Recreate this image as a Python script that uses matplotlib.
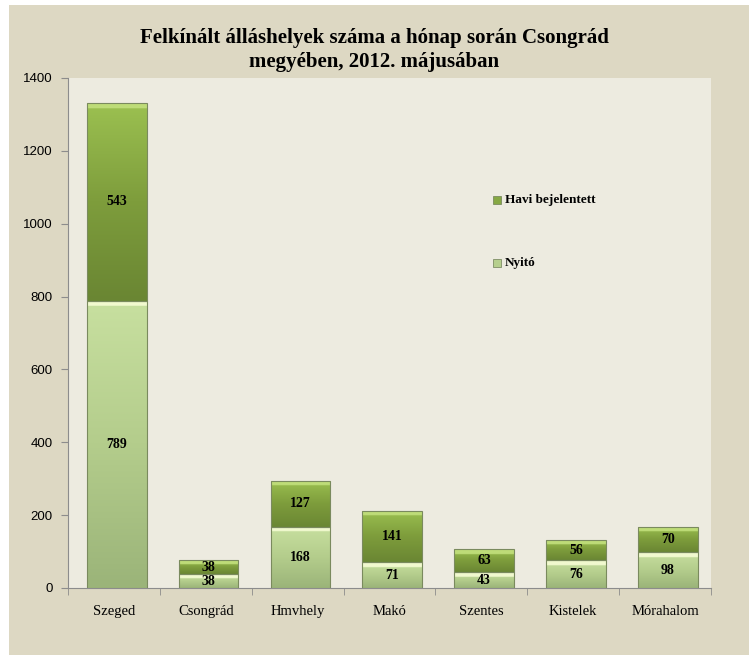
import matplotlib.pyplot as plt
import matplotlib.patches as mpatches
import numpy as np
from matplotlib.colors import LinearSegmentedColormap

categories = ["Szeged", "Csongrád", "Hmvhely", "Makó", "Szentes", "Kistelek", "Mórahalom"]
nyito = [789, 38, 168, 71, 43, 76, 98]
havi = [543, 38, 127, 141, 63, 56, 70]
yticks = [0, 200, 400, 600, 800, 1000, 1200, 1400]

serif = "Liberation Serif"
sans = "Liberation Sans"

fig = plt.figure(figsize=(7.49, 6.55), dpi=100, facecolor="white")
# chart area background
fig.patches.append(mpatches.Rectangle((9 / 749, 0), 1 - 9 / 749, 1 - 5 / 655,
                                      transform=fig.transFigure, facecolor="#DDD8C3",
                                      edgecolor="none", zorder=-10))
ax = fig.add_axes([68 / 749, 1 - 588 / 655, (711 - 68) / 749, (588 - 78) / 655])
ax.set_facecolor("#EDEBE0")

x = np.arange(len(categories))
w = 0.65

cm_nyito = LinearSegmentedColormap.from_list("ny", ["#9BB479", "#B4CD8C", "#C8E0A0", "#F1F9CF"])
cm_havi = LinearSegmentedColormap.from_list("hv", ["#6A8633", "#7E9D3C", "#9CC151", "#BEDC78"])


def gradient_bars(bars, cmap):
    for b in bars:
        x0, y0 = b.get_x(), b.get_y()
        x1, y1 = x0 + b.get_width(), y0 + b.get_height()
        h = y1 - y0
        n = 300
        t = np.linspace(0, 1, n)
        capfrac = min(14.0 / h, 0.3)
        vals = np.where(t > 1 - capfrac, 1.0, t * 0.66)
        img = np.tile(vals[:, None], (1, 2))
        im = ax.imshow(img, cmap=cmap, vmin=0, vmax=1, origin="lower", aspect="auto",
                       extent=(x0, x1, y0, y1), zorder=3, interpolation="bilinear")
        im.set_clip_path(b)
        b.set_facecolor("none")
        b.set_edgecolor("#7A8A5E")
        b.set_linewidth(0.8)
        b.set_zorder(4)


b1 = ax.bar(x + 0.03, nyito, w, color="#B6CF8D", label="Nyitó")
b2 = ax.bar(x + 0.03, havi, w, bottom=nyito, color="#7E9C3C", label="Havi bejelentett")
gradient_bars(b1, cm_nyito)
gradient_bars(b2, cm_havi)

for i in range(len(categories)):
    ax.text(x[i] + 0.03, nyito[i] / 2, str(nyito[i]), ha="center", va="center",
            fontsize=10, fontweight="bold", family=serif, zorder=5)
    ax.text(x[i] + 0.03, nyito[i] + havi[i] / 2, str(havi[i]), ha="center", va="center",
            fontsize=10, fontweight="bold", family=serif, zorder=5)

ax.set_xlim(-0.5, len(categories) - 0.5)
ax.set_ylim(0, 1400)
ax.set_yticks(yticks)
ax.set_yticklabels([str(v) for v in yticks], family=sans, fontsize=9.5)
ax.set_xticks(x)
ax.set_xticklabels(categories, family=serif, fontsize=10.5)
ax.set_xticks(np.arange(-0.5, len(categories)), minor=True)
ax.tick_params(axis="x", which="major", length=0, pad=12)
ax.tick_params(axis="x", which="minor", length=5, color="#8C8C8C", direction="out")
ax.tick_params(axis="y", length=5, color="#8C8C8C", direction="out", pad=6)
for s in ["top", "right"]:
    ax.spines[s].set_visible(False)
for s in ["left", "bottom"]:
    ax.spines[s].set_color("#8C8C8C")

fig.text(0.5, 1 - 38 / 655, "Felkínált álláshelyek száma a hónap során Csongrád",
         ha="center", va="center", fontsize=15, fontweight="bold", family=serif)
fig.text(0.5, 1 - 62 / 655, "megyében, 2012. májusában",
         ha="center", va="center", fontsize=15, fontweight="bold", family=serif)

# legend
for ypix, lab, col in [(200, "Havi bejelentett", "#86A843"), (263, "Nyitó", "#B6CF8D")]:
    fig.patches.append(mpatches.Rectangle((493 / 749, 1 - (ypix + 4) / 655), 8 / 749, 8 / 655,
                                          transform=fig.transFigure, facecolor=col,
                                          edgecolor="#6E7E55", linewidth=0.5, zorder=5))
    fig.text(505 / 749, 1 - ypix / 655, lab, ha="left", va="center",
             fontsize=9.5, fontweight="bold", family=serif)

fig.savefig("out.png", dpi=100, facecolor=fig.get_facecolor())
